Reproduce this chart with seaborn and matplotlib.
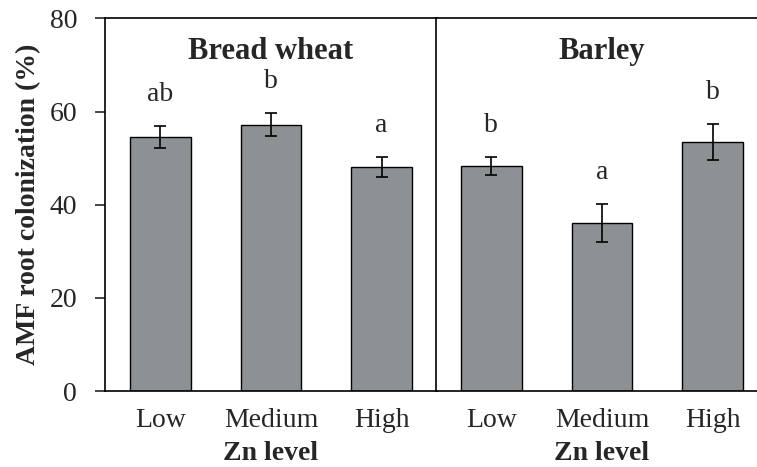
import pandas as pd
import matplotlib
matplotlib.use("Agg")
import matplotlib.pyplot as plt
import seaborn as sns

# ==========================================
# DATA
# ==========================================

zn_levels = ["Low", "Medium", "High"]

wheat_mean = [54.5, 57.2, 48.1]
wheat_se = [2.4, 2.4, 2.1]
wheat_letters = ["ab", "b", "a"]

barley_mean = [48.3, 36.1, 53.5]
barley_se = [1.9, 4.0, 3.8]
barley_letters = ["b", "a", "b"]

panel_titles = ["Bread wheat", "Barley"]

# ==========================================
# STYLE
# ==========================================

sns.set_theme(style="ticks")
plt.rcParams["font.family"] = ["Liberation Serif", "DejaVu Serif"]
plt.rcParams["axes.edgecolor"] = "black"
plt.rcParams["axes.linewidth"] = 1.2

BAR_COLOR = "#8e9194"

fig = plt.figure(figsize=(7.57, 4.67), dpi=100)

ax1 = fig.add_axes([0.1387, 0.1627, 0.4386, 0.7977])
ax2 = fig.add_axes([0.5760, 0.1627, 0.4386, 0.7977])

panels = [
    (ax1, wheat_mean, wheat_se, wheat_letters, panel_titles[0]),
    (ax2, barley_mean, barley_se, barley_letters, panel_titles[1]),
]

for ax, means, errs, letters, title in panels:

    df = pd.DataFrame({"Zn": zn_levels, "AMF": means})

    sns.barplot(
        data=df,
        x="Zn",
        y="AMF",
        order=zn_levels,
        color=BAR_COLOR,
        saturation=1,
        width=0.55,
        edgecolor="black",
        linewidth=1.0,
        errorbar=None,
        ax=ax
    )

    ax.errorbar(
        range(len(means)),
        means,
        yerr=errs,
        fmt="none",
        ecolor="black",
        elinewidth=1.2,
        capsize=4,
        capthick=1.2
    )

    for i, (m, e, lab) in enumerate(zip(means, errs, letters)):
        ax.text(i, m + e + 4.2, lab, ha="center", va="bottom", fontsize=20)

    ax.text(1, 73, title, ha="center", va="center",
            fontsize=22, fontweight="bold")

    ax.set_xlim(-0.5, 2.5)
    ax.set_ylim(0, 80)
    ax.set_xlabel("Zn level", fontsize=20, fontweight="bold", labelpad=6)
    ax.tick_params(axis="x", length=0, labelsize=20, pad=12)

# left panel y axis
ax1.set_yticks([0, 20, 40, 60, 80])
ax1.tick_params(axis="y", length=7, width=1.2, direction="out",
                labelsize=20, pad=13)
ax1.set_ylabel("AMF root colonization (%)", fontsize=20,
               fontweight="bold", labelpad=6)

# right panel: no y ticks, no right border (cut off by the figure edge)
ax2.set_yticks([])
ax2.set_ylabel("")
ax2.spines["right"].set_visible(False)

fig.savefig("out.png", dpi=100)
plt.close()
